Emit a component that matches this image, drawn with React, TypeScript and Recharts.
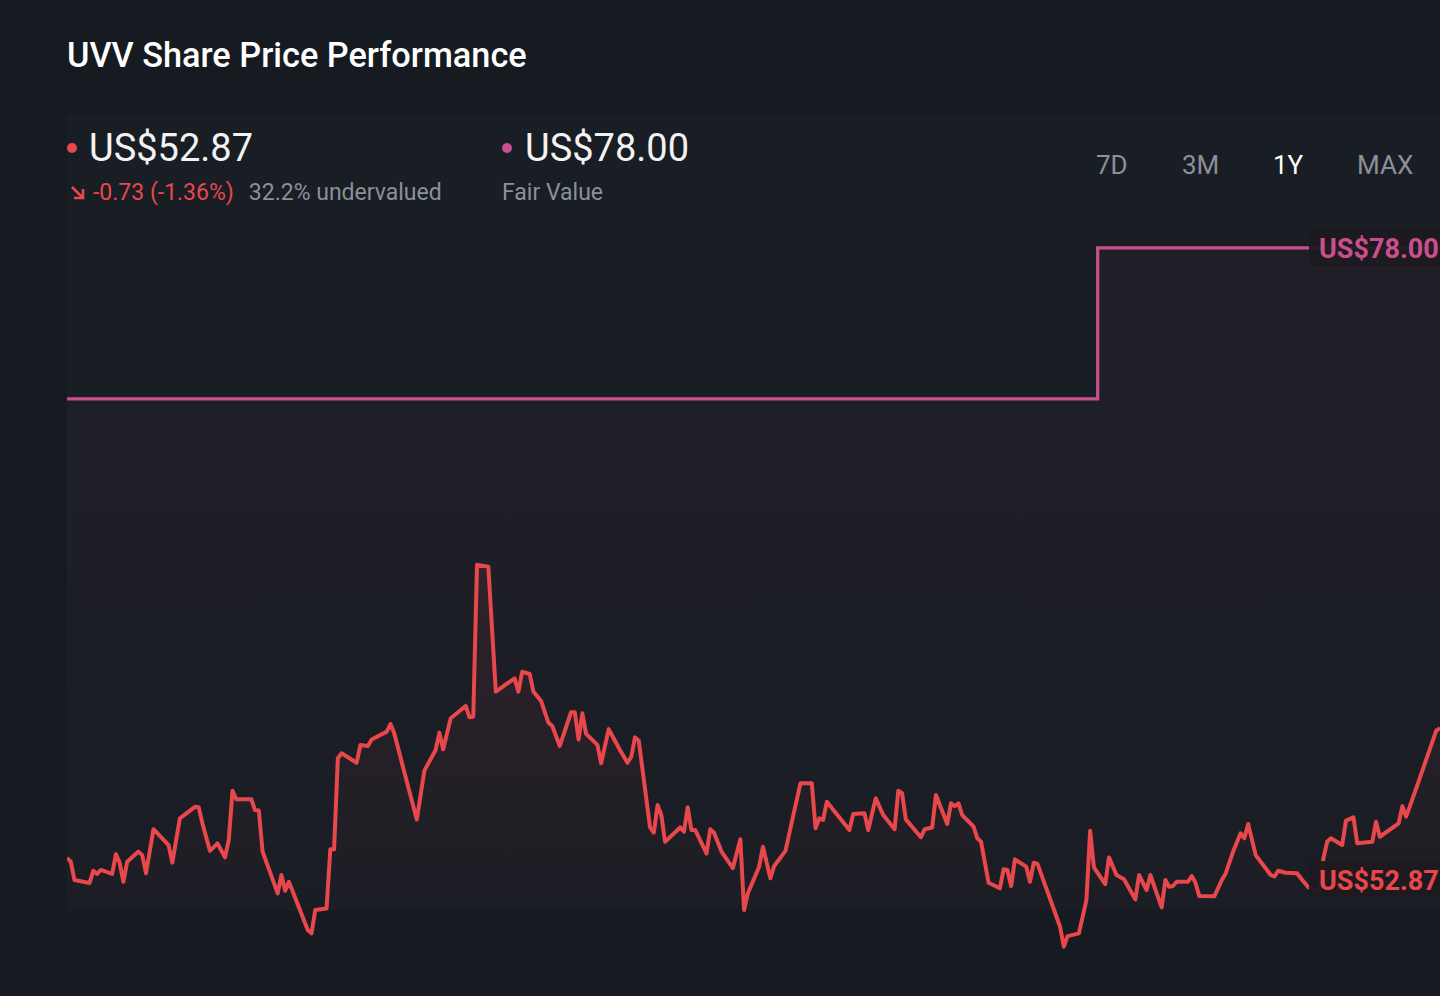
import { ComposedChart, Area, XAxis, YAxis, ReferenceLine } from 'recharts';

// trading day offsets across the 1Y window (0 = start, 365 = today)
const tradingDay = [
  0, 1, 2, 6, 7, 8, 9, 12, 13, 14,
  15, 16, 19, 20, 21, 23, 27, 28, 30, 34,
  35, 36, 38, 40, 42, 43, 44, 45, 49, 50,
  51, 52, 56, 57, 58, 59, 64, 65, 66, 69,
  70, 71, 72, 73, 77, 78, 80, 81, 85, 86,
  87, 90, 93, 95, 98, 99, 100, 102, 106, 107,
  108, 109, 112, 114, 119, 120, 121, 123, 124, 126,
  128, 129, 131, 134, 135, 136, 137, 138, 141, 142,
  144, 147, 149, 150, 151, 152, 155, 156, 157, 158,
  159, 163, 164, 165, 166, 167, 170, 171, 172, 174,
  177, 179, 180, 181, 184, 185, 187, 188, 191, 193,
  195, 198, 199, 200, 201, 202, 208, 209, 212, 213,
  215, 217, 220, 221, 222, 223, 227, 228, 230, 231,
  234, 235, 236, 237, 238, 241, 242, 243, 245, 248,
  249, 250, 251, 252, 255, 256, 257, 258, 264, 265,
  266, 269, 271, 272, 273, 276, 277, 279, 281, 284,
  285, 287, 288, 291, 292, 293, 294, 295, 298, 299,
  300, 301, 305, 307, 308, 310, 312, 313, 314, 316,
  320, 321, 322, 324, 327, 328, 330, 333, 334, 335,
  336, 339, 340, 342, 343, 347, 348, 349, 354, 355,
  356, 357, 359, 364, 365,
];

const closePrice = [
  53.75, 53.6, 52.87, 52.75, 53.24, 53.11, 53.27, 53.11, 53.9, 53.55,
  52.8, 53.6, 54.0, 53.86, 53.14, 54.89, 54.26, 53.56, 55.32, 55.78,
  55.76, 55.12, 54.03, 54.33, 53.77, 54.46, 56.42, 56.08, 56.08, 55.65,
  55.63, 54.0, 52.34, 53.07, 52.44, 52.8, 50.88, 50.75, 51.68, 51.74,
  54.09, 54.09, 57.71, 57.91, 57.53, 58.24, 58.2, 58.46, 58.77, 59.07,
  58.7, 56.98, 55.28, 57.22, 58.04, 58.73, 58.07, 59.3, 59.79, 59.34,
  59.36, 65.4, 65.33, 60.36, 60.89, 60.36, 61.15, 61.06, 60.36, 60.0,
  59.12, 58.99, 58.2, 59.54, 59.54, 58.46, 59.5, 58.68, 58.24, 57.51,
  58.87, 58.04, 57.53, 57.77, 58.54, 58.41, 54.96, 54.75, 55.85, 55.45,
  54.39, 54.96, 54.79, 55.76, 54.86, 54.86, 53.93, 54.89, 54.75, 54.0,
  53.34, 54.49, 51.68, 52.34, 53.4, 54.19, 52.94, 53.43, 54.03, 55.39,
  56.72, 56.72, 54.93, 55.32, 55.26, 55.98, 54.86, 55.49, 55.52, 54.86,
  56.12, 55.45, 54.89, 56.42, 56.32, 55.28, 54.57, 54.89, 54.96, 56.25,
  55.1, 55.92, 55.81, 55.92, 55.45, 54.99, 54.53, 54.39, 52.76, 52.54,
  53.3, 53.27, 52.63, 53.69, 53.4, 52.8, 53.56, 53.51, 51.01, 50.22,
  50.64, 50.75, 52.07, 54.83, 53.37, 52.71, 53.77, 53.07, 52.9, 52.1,
  53.07, 52.47, 53.07, 51.78, 52.87, 52.6, 52.63, 52.8, 52.8, 53.03,
  52.76, 52.23, 52.22, 52.87, 53.12, 54.0, 54.73, 54.53, 55.1, 53.86,
  53.07, 53.01, 53.24, 53.16, 53.14, 52.94, 52.58, 52.46, 53.73, 54.39,
  54.53, 54.26, 55.23, 55.36, 54.33, 54.39, 55.19, 54.59, 55.12, 55.81,
  55.39, 55.81, 56.65, 58.81, 58.91,
];

// fair value estimate (step changes)
const fairDay = [0, 274, 365];
const fairValue = [72.0, 78.0, 78.0];

const lastPrice = 52.87;
const lastFair = 78.0;
const ranges = ['7D', '3M', '1Y', 'MAX'];
const activeRange = '1Y';

const priceData = tradingDay.map((d, i) => ({ day: d, price: closePrice[i] }));
const fairData = fairDay.map((d, i) => ({ day: d, fair: fairValue[i] }));

const RED = '#e8474c';
const PINK = '#c94f8e';
const GREY = '#8b9099';
const FONT = 'Roboto, "Noto Sans", sans-serif';

function EndTag({ viewBox, text, color }: any) {
  if (!viewBox) return null;
  const right = viewBox.x + viewBox.width;
  const y = viewBox.y;
  return (
    <g>
      <rect x={right - 131} y={y - 19} width={140} height={37} rx={4} fill="#1e1a20" fillOpacity={0.95} />
      <text x={right - 121} y={y + 10} fill={color} fontSize={27} fontWeight={700} fontFamily={FONT}>
        {text}
      </text>
    </g>
  );
}

export default function App() {
  return (
    <div style={{ position: 'absolute', left: 0, top: 0, width: 1440, height: 996, background: '#161a21', overflow: 'hidden', fontFamily: FONT }}>
      <div style={{ position: 'absolute', left: 67, top: 115, width: 1373, height: 795, background: '#191d24' }} />
      <div style={{ position: 'absolute', left: 67, top: 35, fontSize: 34.3, fontWeight: 500, color: '#ffffff' }}>
        UVV Share Price Performance
      </div>

      <div style={{ position: 'absolute', left: 67, top: 126, display: 'flex', alignItems: 'center' }}>
        <span style={{ width: 10, height: 10, borderRadius: 5, background: RED, marginRight: 12 }} />
        <span style={{ fontSize: 38, color: '#f2f2f2' }}>US${lastPrice.toFixed(2)}</span>
      </div>
      <div style={{ position: 'absolute', left: 69, top: 179, display: 'flex', alignItems: 'center', fontSize: 23 }}>
        <svg width={18} height={18} viewBox="0 0 18 18" style={{ marginRight: 6 }}>
          <path d="M3 3 L14 14 M5 14 H14 V5" stroke={RED} strokeWidth={2.6} fill="none" />
        </svg>
        <span style={{ color: RED }}>-0.73 (-1.36%)</span>
        <span style={{ color: GREY, marginLeft: 15 }}>32.2% undervalued</span>
      </div>

      <div style={{ position: 'absolute', left: 502, top: 126, display: 'flex', alignItems: 'center' }}>
        <span style={{ width: 10, height: 10, borderRadius: 5, background: PINK, marginRight: 13 }} />
        <span style={{ fontSize: 38, color: '#f2f2f2' }}>US${lastFair.toFixed(2)}</span>
      </div>
      <div style={{ position: 'absolute', left: 502, top: 179, fontSize: 23, color: GREY }}>Fair Value</div>

      {ranges.map((r, i) => (
        <div
          key={r}
          style={{
            position: 'absolute',
            left: [1096, 1182, 1273, 1357][i],
            top: 150,
            fontSize: 26,
            color: r === activeRange ? '#ffffff' : GREY,
          }}
        >
          {r}
        </div>
      ))}

      <div style={{ position: 'absolute', left: 0, top: 0 }}>
        <ComposedChart width={1440} height={996} margin={{ top: 220, right: 0, bottom: 36, left: 67 }}>
          <defs>
            <linearGradient id="priceFill" x1="0" y1="0" x2="0" y2="1">
              <stop offset="0%" stopColor={RED} stopOpacity={0.16} />
              <stop offset="85%" stopColor={RED} stopOpacity={0.02} />
              <stop offset="100%" stopColor={RED} stopOpacity={0} />
            </linearGradient>
            <linearGradient id="fairFill" x1="0" y1="0" x2="0" y2="1">
              <stop offset="0%" stopColor={PINK} stopOpacity={0.07} />
              <stop offset="100%" stopColor={PINK} stopOpacity={0} />
            </linearGradient>
          </defs>
          <XAxis type="number" dataKey="day" domain={[0, 365]} hide allowDataOverflow />
          <YAxis type="number" domain={[49.69, 79.11]} hide allowDataOverflow />
          <Area
            data={fairData}
            dataKey="fair"
            type="stepAfter"
            stroke={PINK}
            strokeWidth={3.2}
            fill="url(#fairFill)"
            dot={false}
            activeDot={false}
            isAnimationActive={false}
          />
          <Area
            data={priceData}
            dataKey="price"
            type="linear"
            stroke={RED}
            strokeWidth={4}
            strokeLinejoin="round"
            fill="url(#priceFill)"
            dot={false}
            activeDot={false}
            isAnimationActive={false}
          />
          <ReferenceLine y={lastFair} stroke="none" label={<EndTag text={`US$${lastFair.toFixed(2)}`} color={PINK} />} />
          <ReferenceLine y={lastPrice} stroke="none" label={<EndTag text={`US$${lastPrice.toFixed(2)}`} color={RED} />} />
        </ComposedChart>
      </div>
    </div>
  );
}
